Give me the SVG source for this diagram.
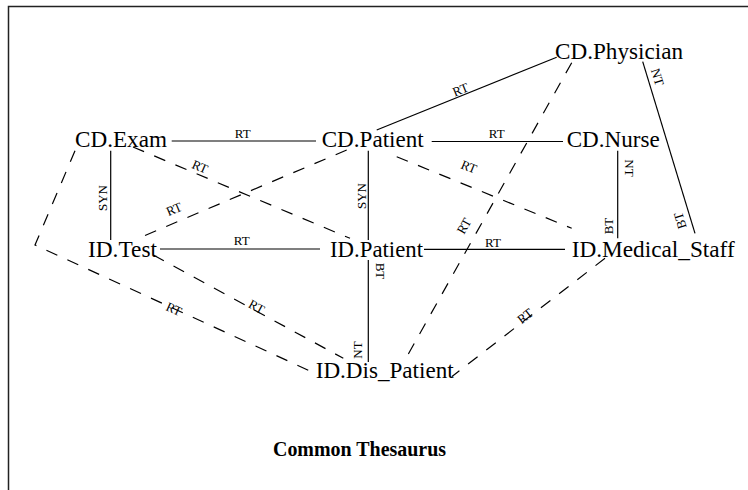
<svg xmlns="http://www.w3.org/2000/svg" width="748" height="490" viewBox="0 0 748 490">
  <style>
    .node { font-family: "Liberation Serif", "Times New Roman", serif; font-size: 23px; fill: #000; }
    .lbl { font-family: "Liberation Serif", "Times New Roman", serif; font-size: 13px; fill: #000; text-anchor: middle; }
    .title { font-family: "Liberation Serif", "Times New Roman", serif; font-size: 22px; font-weight: bold; fill: #000; }
    .solid { stroke: #000; stroke-width: 1.2; fill: none; }
    .dash { stroke: #000; stroke-width: 1.2; fill: none; stroke-dasharray: 12 11; }
  </style>
  <rect width="748" height="490" fill="#fff"/>
  <!-- frame: left and top edges only -->
  <path d="M8.5,490 V6.5 H748" fill="none" stroke="#222" stroke-width="1.5"/>

  <g id="connectors">
    <!-- solid relations -->
    <line class="solid" x1="171.7" y1="141" x2="316" y2="141"/>
    <line class="solid" x1="431.7" y1="141.5" x2="563" y2="141.5"/>
    <line class="solid" x1="160" y1="249" x2="320" y2="249"/>
    <line class="solid" x1="424" y1="249.3" x2="565" y2="249.3"/>
    <line class="solid" x1="110.7" y1="150.7" x2="110.7" y2="240"/>
    <line class="solid" x1="368.3" y1="150.7" x2="368.3" y2="240"/>
    <line class="solid" x1="368.3" y1="260" x2="368.3" y2="362"/>
    <line class="solid" x1="617.7" y1="150.7" x2="617.7" y2="238.3"/>
    <line class="solid" x1="376.7" y1="130" x2="556.7" y2="57.3"/>
    <line class="solid" x1="642.7" y1="61.7" x2="695" y2="233.3"/>
    <!-- dashed relations -->
    <line class="dash" x1="133" y1="147" x2="350" y2="238.3"/>
    <line class="dash" x1="346.7" y1="150" x2="138.3" y2="238.3"/>
    <line class="dash" x1="396.7" y1="156.7" x2="571.7" y2="228.3"/>
    <line class="dash" x1="571.7" y1="62.7" x2="405" y2="360"/>
    <line class="dash" x1="153.3" y1="255" x2="343.3" y2="358.3"/>
    <polyline class="dash" points="75,150.7 35,245 315,373.3"/>
    <line class="dash" x1="605" y1="258.3" x2="452" y2="376.5"/>

    <!-- relation labels -->
    <text class="lbl" x="242.7" y="138">RT</text>
    <text class="lbl" x="496.7" y="138">RT</text>
    <text class="lbl" x="241.7" y="245">RT</text>
    <text class="lbl" x="493" y="246.5">RT</text>
    <text class="lbl" transform="translate(102.5,198) rotate(-90)" y="4.5">SYN</text>
    <text class="lbl" transform="translate(361.5,196) rotate(-90)" y="4.5">SYN</text>
    <text class="lbl" transform="translate(380.5,271) rotate(90)" y="4.5">BT</text>
    <text class="lbl" transform="translate(357,350) rotate(-90)" y="4.5">NT</text>
    <text class="lbl" transform="translate(629,168) rotate(90)" y="4.5">NT</text>
    <text class="lbl" transform="translate(608.5,226) rotate(-90)" y="4.5">BT</text>
    <text class="lbl" transform="translate(657.5,77) rotate(73)" y="4.5">NT</text>
    <text class="lbl" transform="translate(680,220.7) rotate(-107)" y="4.5">BT</text>
    <text class="lbl" transform="translate(460.5,89.5) rotate(-22)" y="4.5">RT</text>
    <text class="lbl" transform="translate(200,166.7) rotate(23)" y="4.5">RT</text>
    <text class="lbl" transform="translate(174,209) rotate(-23)" y="4.5">RT</text>
    <text class="lbl" transform="translate(469,166.7) rotate(22)" y="4.5">RT</text>
    <text class="lbl" transform="translate(464,226) rotate(-61)" y="4.5">RT</text>
    <text class="lbl" transform="translate(256.7,306.7) rotate(28.5)" y="4.5">RT</text>
    <text class="lbl" transform="translate(174,309) rotate(24.6)" y="4.5">RT</text>
    <text class="lbl" transform="translate(525,316) rotate(-37.6)" y="4.5">RT</text>
  </g>

  <g id="cd-physician"><text class="node" x="555" y="59" textLength="128" lengthAdjust="spacingAndGlyphs">CD.Physician</text></g>
  <g id="cd-exam"><text class="node" x="75" y="147" textLength="92" lengthAdjust="spacingAndGlyphs">CD.Exam</text></g>
  <g id="cd-patient"><text class="node" x="321.7" y="146.7" textLength="102" lengthAdjust="spacingAndGlyphs">CD.Patient</text></g>
  <g id="cd-nurse"><text class="node" x="566.7" y="147" textLength="93" lengthAdjust="spacingAndGlyphs">CD.Nurse</text></g>
  <g id="id-test"><text class="node" x="88" y="256.7" textLength="69" lengthAdjust="spacingAndGlyphs">ID.Test</text></g>
  <g id="id-patient"><text class="node" x="330" y="256.7" textLength="93" lengthAdjust="spacingAndGlyphs">ID.Patient</text></g>
  <g id="id-medical-staff"><text class="node" x="571.7" y="256.7" textLength="163" lengthAdjust="spacingAndGlyphs">ID.Medical_Staff</text></g>
  <g id="id-dis-patient"><text class="node" x="315.7" y="378" textLength="138" lengthAdjust="spacingAndGlyphs">ID.Dis_Patient</text></g>

  <text class="title" x="273" y="456" textLength="173" lengthAdjust="spacingAndGlyphs">Common Thesaurus</text>
</svg>
